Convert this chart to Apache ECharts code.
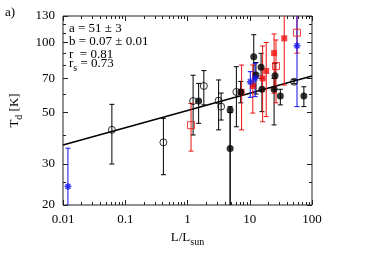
<!DOCTYPE html>
<html><head><meta charset="utf-8">
<script src="https://cdn.jsdelivr.net/npm/echarts@6/dist/echarts.min.js"></script>
<style>html,body{margin:0;padding:0;background:#fff}#c{width:374px;height:262px}</style>
</head><body><div id="c"></div>
<script>
// tick values
const xTickLabels = [0.01, 0.1, 1, 10, 100];
const xMinorTicks = [0.02,0.03,0.04,0.05,0.06,0.07,0.08,0.09,0.2,0.3,0.4,0.5,0.6,0.7,0.8,0.9,2,3,4,5,6,7,8,9,20,30,40,50,60,70,80,90];
const yTickLabels = [20, 30, 50, 70, 100, 130];
const yMinorTicks = [25, 40, 60, 80, 90, 110, 120];

// data: [L/Lsun, Td, Td_low, Td_high]
const openCircles = [
  [0.061, 42.1, 30.0, 54.2],
  [0.41, 37.2, 27.0, 47.2],
  [1.23, 56.0, 40.0, 72.3],
  [1.83, 65.0, 53.9, 75.7],
  [3.16, 56.2, 42.1, 69.0],
  [3.47, 53.0, 46.4, 60.6],
  [6.1, 61.3, 43.4, 78.7],
  [51.5, 67.8, 66.5, 69.2]
];
const filledCircles = [
  [1.51, 56.0, 44.9, 66.7],
  [4.84, 51.3, 15, 53.0],
  [4.84, 35.0, 15, 50.0],
  [7.16, 61.3, 55.0, 68.0],
  [11.6, 86.9, 65.0, 108.0],
  [12.6, 72.5, 60.0, 82.0],
  [15.2, 78.2, 70.0, 89.8],
  [15.7, 62.9, 50.4, 70.0],
  [24.6, 63.0, 44.2, 70.0],
  [25.5, 72.0, 63.0, 81.4],
  [31.0, 58.9, 53.9, 62.9],
  [74.0, 58.9, 53.0, 64.5]
];
const redFilled = [
  [7.4, 61.3, 42.1, 80.0],
  [11.2, 65.0, 49.7, 80.0],
  [16.1, 70.1, 45.6, 96.6],
  [18.4, 75.4, 48.0, 100.0],
  [24.6, 90.0, 60.5, 108.8],
  [35.8, 104.2, 65.6, 150]
];
const redOpen = [
  [1.14, 44.1, 34.1, 54.7],
  [26.4, 79.2, 55.0, 102.5],
  [57.4, 110.2, 90.0, 140]
];
const blueStars = [
  [0.012, 24.0, 15, 35.1],
  [10.2, 67.8, 58.1, 74.9],
  [12.2, 70.3, 58.5, 81.4],
  [57.4, 96.8, 53.0, 160]
];
// fit line endpoints (T = a L^b)
const fitLine = [[0.01, 36.2], [100, 71.7]];

const FONT = '"Liberation Serif", "DejaVu Serif", serif';
const RED = '#f01010', BLUE = '#1010f0', BLACK = '#000';

function errRender(color, lw) {
  return function (params, api) {
    const x = api.value(0), lo = api.value(2), hi = api.value(3);
    const p1 = api.coord([x, lo]), p2 = api.coord([x, hi]);
    const cap = 2.5;
    const st = { stroke: color, lineWidth: lw };
    return { type: 'group', children: [
      { type: 'line', shape: { x1: p1[0], y1: p1[1], x2: p2[0], y2: p2[1] }, style: st },
      { type: 'line', shape: { x1: p1[0] - cap, y1: p1[1], x2: p1[0] + cap, y2: p1[1] }, style: st },
      { type: 'line', shape: { x1: p2[0] - cap, y1: p2[1], x2: p2[0] + cap, y2: p2[1] }, style: st }
    ]};
  };
}
function errSeries(data, color) {
  return { type: 'custom', xAxisIndex: 0, yAxisIndex: 0, clip: true, z: 2,
    renderItem: errRender(color, 1), data: data, encode: { x: 0, y: 1 }, silent: true };
}
function fmtLabel(list) {
  return function (v) {
    for (const l of list) if (Math.abs(Math.log10(v / l)) < 1e-6) return String(l);
    return '';
  };
}
const pts = d => d.map(r => [r[0], r[1]]);
const starPath = 'path://M0,5L10,5M5,0L5,10M1.5,1.5L8.5,8.5M1.5,8.5L8.5,1.5';

function xAx(pos, vals, len, showLabel) {
  return { type: 'log', logBase: 10, min: 0.01, max: 100, position: pos, gridIndex: 0,
    axisLine: { show: false }, splitLine: { show: false },
    axisTick: { show: true, inside: true, length: len, customValues: vals, lineStyle: { color: '#222', width: 1 } },
    axisLabel: { show: showLabel, customValues: xTickLabels, formatter: fmtLabel(xTickLabels),
      fontFamily: FONT, fontSize: 13, color: '#000', margin: 8 } };
}
function yAx(pos, vals, len, showLabel) {
  return { type: 'log', logBase: 10, min: 20, max: 130, position: pos, gridIndex: 0,
    axisLine: { show: false }, splitLine: { show: false },
    axisTick: { show: true, inside: true, length: len, customValues: vals, lineStyle: { color: '#222', width: 1 } },
    axisLabel: { show: showLabel, customValues: yTickLabels, formatter: fmtLabel(yTickLabels),
      fontFamily: FONT, fontSize: 13, color: '#000', margin: 8 } };
}

const xMain = xAx('bottom', xTickLabels, 5, true);
xMain.name = '{a|L/L}{s|sun}';
xMain.nameLocation = 'middle';
xMain.nameGap = 22;
xMain.nameTextStyle = { rich: {
  a: { fontFamily: FONT, fontSize: 13, color: '#000', verticalAlign: 'bottom', padding: [0, 0, 3, 0] },
  s: { fontFamily: FONT, fontSize: 10, color: '#000', verticalAlign: 'bottom' } } };

const yMain = yAx('left', yTickLabels, 5, true);
yMain.name = '{a|T}{s|d}{a| [K]}';
yMain.nameLocation = 'middle';
yMain.nameGap = 39;
yMain.nameRotate = 90;
yMain.nameTextStyle = { rich: {
  a: { fontFamily: FONT, fontSize: 13, color: '#000', verticalAlign: 'bottom', padding: [0, 0, 3, 0] },
  s: { fontFamily: FONT, fontSize: 10, color: '#000', verticalAlign: 'bottom' } } };

const chart = echarts.init(document.getElementById('c'), null, { renderer: 'canvas' });
chart.setOption({
  animation: false,
  backgroundColor: '#fff',
  grid: { left: 58, right: 62, top: 16, bottom: 57, show: true, borderColor: '#222', borderWidth: 1, backgroundColor: 'transparent' },
  xAxis: [xMain, xAx('bottom', xMinorTicks, 3, false), xAx('top', xTickLabels, 5, false), xAx('top', xMinorTicks, 3, false)],
  yAxis: [yMain, yAx('left', yMinorTicks, 3, false), yAx('right', yTickLabels, 5, false), yAx('right', yMinorTicks, 3, false)],
  graphic: [
    { type: 'text', left: 5, top: 6, style: { text: 'a)', font: '13px ' + FONT, fill: '#000' } },
    { type: 'text', left: 69, top: 22, style: {
      text: 'a = 51 ± 3\nb = 0.07 ± 0.01\nr  = 0.81\n{m|r}{s|s}{m| = 0.73}',
      font: '13px ' + FONT, fill: '#000', lineHeight: 12.8,
      rich: { m: { fontFamily: FONT, fontSize: 13, fill: '#000', verticalAlign: 'bottom', padding: [0, 0, 3, 0] },
              s: { fontFamily: FONT, fontSize: 10, fill: '#000', verticalAlign: 'bottom' } } } }
  ],
  series: [
    { type: 'line', data: fitLine, showSymbol: false, symbol: 'none', lineStyle: { color: '#000', width: 1.5 }, z: 1, silent: true },
    errSeries(openCircles, BLACK),
    errSeries(filledCircles, BLACK),
    errSeries(redFilled, RED),
    errSeries(redOpen, RED),
    errSeries(blueStars, BLUE),
    { type: 'scatter', data: pts(redFilled), symbol: 'rect', symbolSize: 6, itemStyle: { color: RED }, z: 3 },
    { type: 'scatter', data: pts(redOpen), symbol: 'rect', symbolSize: 7, itemStyle: { color: 'rgba(0,0,0,0)', borderColor: RED, borderWidth: 1 }, z: 3 },
    { type: 'scatter', data: pts(openCircles), symbol: 'circle', symbolSize: 7, itemStyle: { color: 'rgba(0,0,0,0)', borderColor: '#000', borderWidth: 1 }, z: 4 },
    { type: 'scatter', data: pts(filledCircles), symbol: 'circle', symbolSize: 7, itemStyle: { color: '#000' }, z: 4 },
    { type: 'scatter', data: pts(blueStars), symbol: starPath, symbolSize: 7, itemStyle: { color: 'rgba(0,0,0,0)', borderColor: BLUE, borderWidth: 1.5 }, z: 5 }
  ]
});
</script></body></html>
